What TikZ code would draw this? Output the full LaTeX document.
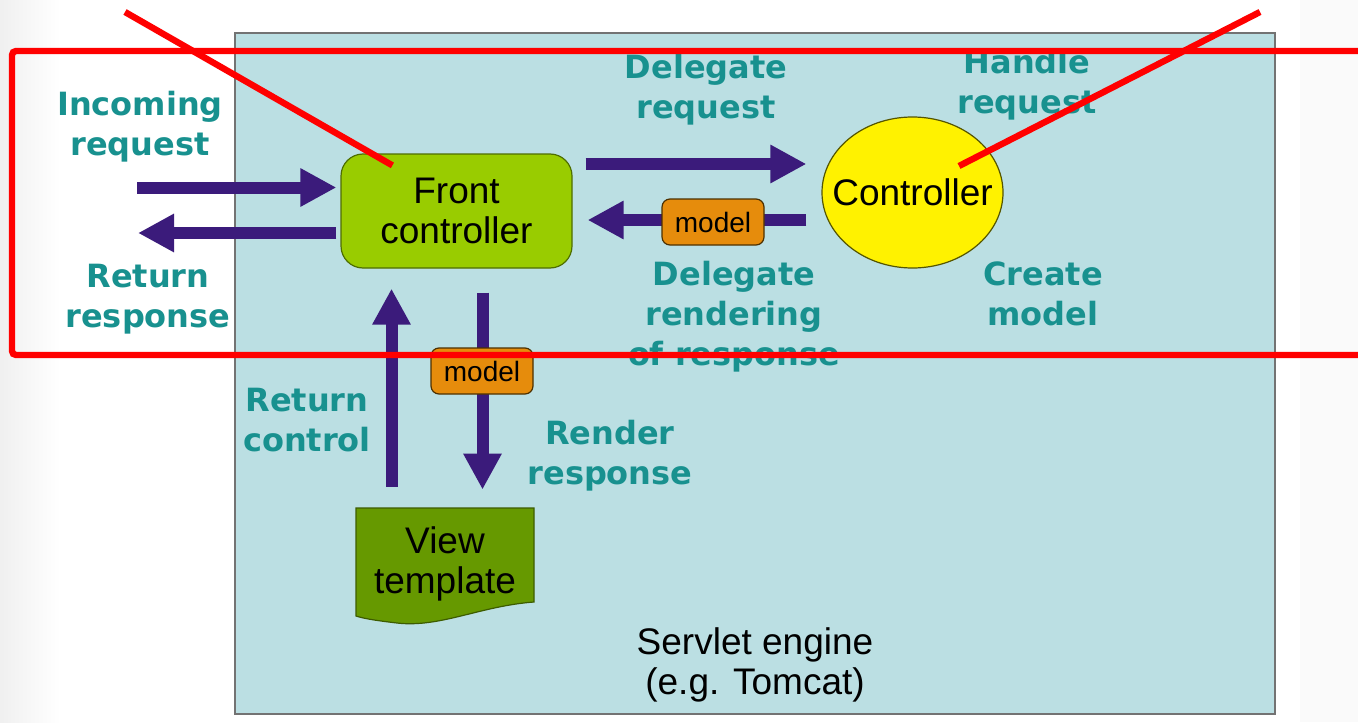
\documentclass[tikz,border=0pt]{standalone}
\usepackage{fontspec}
\setmainfont{Liberation Sans}
\newfontfamily\labelfont{DejaVu Sans}
\usepackage{tikz}
\usetikzlibrary{positioning,arrows.meta,shapes.geometric,calc}
\usepackage{xcolor}
\definecolor{engineBlue}{HTML}{BBDFE3}
\definecolor{flowTeal}{HTML}{18918F}
\definecolor{arrowPurple}{HTML}{3B1B7B}
\definecolor{frontGreen}{HTML}{99CC00}
\definecolor{frontEdge}{HTML}{4E6E00}
\definecolor{viewGreen}{HTML}{669900}
\definecolor{viewEdge}{HTML}{3D5C00}
\definecolor{modelOrange}{HTML}{E68C0C}
\definecolor{modelEdge}{HTML}{4D3000}
\definecolor{ctrlEdge}{HTML}{555500}
\definecolor{markRed}{HTML}{FF0000}
\newcommand{\bigText}{\fontsize{18.5}{20}\selectfont}

\begin{document}
\begin{tikzpicture}[x=0.5pt, y=-0.5pt,
    engineBox/.style={draw=black!55, fill=engineBlue, line width=0.9pt},
    frontBox/.style={rectangle, rounded corners=11pt, draw=frontEdge, fill=frontGreen, line width=0.6pt, minimum width=115.5pt, minimum height=57pt, align=center, font=\bigText},
    ctrlEllipse/.style={ellipse, draw=ctrlEdge, fill=yellow, line width=0.6pt, minimum width=90.5pt, minimum height=75.5pt, inner sep=0pt},
    viewShape/.style={draw=viewEdge, fill=viewGreen, line width=0.6pt},
    modelBox/.style={rectangle, rounded corners=4pt, draw=modelEdge, fill=modelOrange, line width=0.6pt, minimum width=51pt, minimum height=23pt, inner sep=0pt, font=\fontsize{14}{16}\selectfont},
    flowLabel/.style={align=center, text=flowTeal, inner sep=0pt, font=\labelfont\bfseries\fontsize{16}{20}\selectfont},
    fatArrow/.style={draw=arrowPurple, line width=6pt, -{Triangle[length=18pt, width=18pt]}},
    markLine/.style={draw=markRed, line width=3.2pt}
]
    \useasboundingbox (0,0) rectangle (1358,722);
    \clip (0,0) rectangle (1358,722);

    % page and engine frame
    \fill[white] (0,0) rectangle (1358,722);
    \shade[left color=black!6, right color=white] (0,0) rectangle (60,722);
    \fill[black!2] (1300,0) rectangle (1358,722);
    \draw[engineBox] (235,33) rectangle (1275,714);

    % components
    \node[frontBox] (front) at (456.5,211) {Front\\controller};
    \node[ctrlEllipse, label={[font=\bigText]center:Controller}] (ctrl) at (912.5,192.5) {};

    \coordinate (viewNW) at (356,508);
    \coordinate (viewSE) at (534,602);
    \draw[viewShape] (viewNW) -- (viewNW -| viewSE) -- (viewSE)
        .. controls (480,606) and (440,628) .. (397,623)
        .. controls (380,621) and (365,619) .. (356,616) -- cycle;
    \node[align=center, font=\bigText, minimum width=89pt, minimum height=56pt] (view) at (445,564) {View\\template};

    % request / response flow
    \coordinate (inTail) at (137,187.5);
    \coordinate (outHead) at (138,233);
    \draw[fatArrow, shorten >=2pt] (inTail) -- (inTail -| front.west);
    \draw[fatArrow, shorten <=2pt] (outHead -| front.west) -- (outHead);

    \coordinate (reqLine) at ([yshift=23.5pt]front.east);
    \coordinate (rendLine) at ([yshift=-4.5pt]front.east);
    \draw[fatArrow, shorten <=6.5pt, shorten >=7.5pt] (reqLine) -- (reqLine -| ctrl.west);
    \draw[fatArrow, shorten <=7.5pt, shorten >=7.5pt] (rendLine -| ctrl.west) -- (rendLine);

    \coordinate (ctlLine) at ([xshift=-32.5pt]front.south);
    \coordinate (renderLine) at ([xshift=13pt]front.south);
    \draw[fatArrow, shorten <=10.5pt, shorten >=10pt] (ctlLine |- view.north) -- (ctlLine);
    \draw[fatArrow, shorten <=12pt, shorten >=9pt] (renderLine) -- (renderLine |- view.north);

    \node[modelBox] (modelA) at (713,222) {model};
    \node[modelBox] (modelB) at (482,371) {model};

    % step labels
    \node[flowLabel] (inLabel) at (140,127) {Incoming\\request};
    \node[flowLabel] (outLabel) at (148,299) {Return\\response};
    \node[flowLabel] (reqLabel) at (706,90) {Delegate\\request};
    \node[flowLabel] (handleLabel) at (1027,85) {Handle\\request};
    \node[flowLabel] (rendLabel) at (734,317) {Delegate\\rendering\\of response};
    \node[flowLabel] (createLabel) at (1043,294) {Create\\model};
    \node[flowLabel] (ctlLabel) at (307,420) {Return\\control};
    \node[flowLabel] (renderLabel) at (610,456) {Render\\response};
    \node[align=center, font=\bigText] (engineLabel) at (755,665) {Servlet engine\\(e.g. Tomcat)};

    % red markup on top
    \draw[markLine, rounded corners=2pt] (12,51) rectangle (1385,355);
    \draw[markLine] (125,12) -- ($(front.north west)+(52,12)$);
    \draw[markLine] (1260,12) -- ($(ctrl.center)+(46.5,-26.5)$);
\end{tikzpicture}
\end{document}
